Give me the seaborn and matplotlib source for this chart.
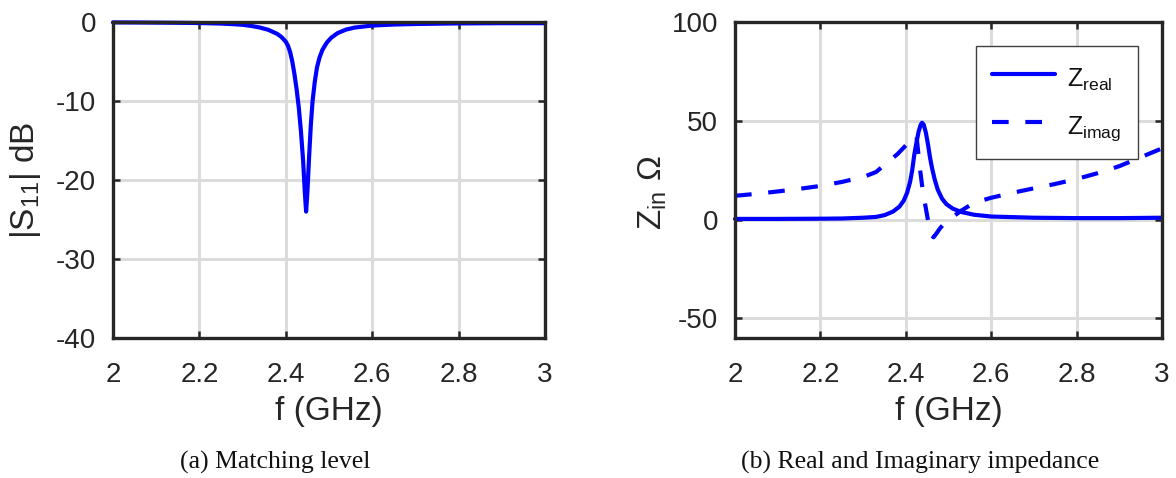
import matplotlib
matplotlib.use("Agg")
import matplotlib.pyplot as plt
import seaborn as sns
import pandas as pd

# |S11| of the antenna (frequency in GHz, magnitude in dB)
f_s11 = [2.00, 2.05, 2.10, 2.15, 2.20, 2.25, 2.28, 2.30, 2.32, 2.34, 2.36, 2.38,
         2.39, 2.40, 2.405, 2.41, 2.415, 2.42, 2.425, 2.43, 2.435, 2.44, 2.444,
         2.447, 2.450, 2.454, 2.458, 2.462, 2.467, 2.472, 2.478, 2.485, 2.495,
         2.505, 2.52, 2.54, 2.56, 2.60, 2.65, 2.70, 2.80, 2.90, 3.00]
s11_db = [-0.05, -0.06, -0.08, -0.10, -0.13, -0.20, -0.28, -0.35, -0.50, -0.70,
          -1.0, -1.5, -1.9, -2.5, -3.0, -3.8, -5.0, -6.6, -8.5, -10.8, -13.8,
          -17.5, -21.5, -24.0, -21.5, -17.0, -13.0, -10.0, -7.6, -5.8, -4.5,
          -3.5, -2.6, -2.0, -1.4, -0.95, -0.70, -0.45, -0.32, -0.25, -0.18,
          -0.15, -0.15]

# Input impedance, real part
f_real = [2.00, 2.10, 2.20, 2.25, 2.30, 2.33, 2.35, 2.37, 2.385, 2.395, 2.403,
          2.41, 2.415, 2.42, 2.425, 2.43, 2.435, 2.438, 2.442, 2.447, 2.452,
          2.457, 2.462, 2.468, 2.475, 2.485, 2.495, 2.51, 2.53, 2.56, 2.60,
          2.70, 2.80, 2.90, 3.00]
z_real = [0.3, 0.3, 0.4, 0.5, 0.9, 1.3, 2.2, 4.0, 6.5, 9.5, 13.5, 19.0, 25.0,
          33.0, 39.0, 44.5, 48.0, 49.0, 48.0, 44.0, 38.0, 31.0, 25.5, 20.0,
          15.0, 10.5, 7.8, 5.5, 3.8, 2.4, 1.5, 0.9, 0.7, 0.7, 0.9]

# Input impedance, imaginary part
f_imag = [2.00, 2.05, 2.10, 2.15, 2.20, 2.25, 2.30, 2.33, 2.36, 2.38, 2.40,
          2.41, 2.42, 2.425, 2.433, 2.44, 2.445, 2.45, 2.455, 2.46, 2.465,
          2.472, 2.48, 2.49, 2.50, 2.508, 2.53, 2.56, 2.60, 2.65, 2.70, 2.75,
          2.80, 2.85, 2.90, 2.95, 3.00]
z_imag = [12.0, 13.0, 14.2, 15.5, 17.0, 19.0, 21.5, 24.0, 29.5, 33.0, 37.5,
          40.0, 42.0, 42.5, 26.0, 14.0, 8.0, 2.0, -4.0, -8.0, -9.0, -7.0,
          -4.5, -2.0, -0.5, 1.0, 4.5, 8.5, 11.0, 13.5, 15.8, 18.0, 20.5, 23.5,
          27.0, 31.5, 36.0]

x_ticks = [2, 2.2, 2.4, 2.6, 2.8, 3]
x_ticklabels = ["2", "2.2", "2.4", "2.6", "2.8", "3"]
s11_ticks = [0, -10, -20, -30, -40]
z_ticks = [100, 50, 0, -50]

sns.set_theme(style="whitegrid")
plt.rcParams.update({
    "font.family": ["Liberation Sans", "DejaVu Sans"],
    "mathtext.fontset": "custom",
    "mathtext.rm": "Liberation Sans",
    "mathtext.it": "Liberation Sans:italic",
    "mathtext.bf": "Liberation Sans:bold",
})

INK = "#262626"
BLUE = "#0000ff"
TICK_FS = 20
LABEL_FS = 24
LW = 3.0

fig = plt.figure(figsize=(11.76, 4.78), dpi=100)
W, H = 1176, 478
ax1 = fig.add_axes([113 / W, 1 - 338 / H, 432 / W, 316 / H])
ax2 = fig.add_axes([735 / W, 1 - 338 / H, 427 / W, 316 / H])

df_s11 = pd.DataFrame({"f": f_s11, "s11": s11_db})
df_re = pd.DataFrame({"f": f_real, "z": z_real})
df_im = pd.DataFrame({"f": f_imag, "z": z_imag})

sns.lineplot(data=df_s11, x="f", y="s11", ax=ax1, color=BLUE, lw=LW,
             sort=False)
sns.lineplot(data=df_re, x="f", y="z", ax=ax2, color=BLUE, lw=LW,
             sort=False, label=r"Z$_{\mathrm{real}}$")
sns.lineplot(data=df_im, x="f", y="z", ax=ax2, color=BLUE, lw=LW,
             sort=False, label=r"Z$_{\mathrm{imag}}$")
ax2.lines[1].set_linestyle((0, (4.0, 4.0)))
for ln in ax1.lines + ax2.lines:
    ln.set_clip_on(False)

for ax in (ax1, ax2):
    ax.set_xlim(2, 3)
    ax.set_xticks(x_ticks)
    ax.set_xticklabels(x_ticklabels)
    ax.grid(True, color="#dcdcdc", lw=2.2)
    ax.set_axisbelow(True)
    for sp in ax.spines.values():
        sp.set_visible(True)
        sp.set_color(INK)
        sp.set_linewidth(2.4)
    ax.tick_params(direction="in", length=5, width=1.8, color=INK,
                   labelcolor=INK, labelsize=TICK_FS, top=True, right=True,
                   bottom=True, left=True)
    ax.tick_params(axis="x", pad=17)
    ax.tick_params(axis="y", pad=12)
    ax.set_xlabel("f (GHz)", fontsize=LABEL_FS, color=INK)
    ax.xaxis.set_label_coords(0.5, -0.185)

ax1.set_ylim(-40, 0)
ax1.set_yticks(s11_ticks)
ax1.set_yticklabels([str(t) for t in s11_ticks])
ax1.set_ylabel(r"|S$_{11}$| dB", fontsize=LABEL_FS, color=INK)
ax1.yaxis.set_label_coords(-0.162, 0.5)

ax2.set_ylim(-60, 100)
ax2.set_yticks(z_ticks)
ax2.set_yticklabels([str(t) for t in z_ticks])
ax2.set_ylabel(r"Z$_{\mathrm{in}}$ Ω", fontsize=LABEL_FS, color=INK)
ax2.yaxis.set_label_coords(-0.155, 0.46)

leg = ax2.legend(loc="upper right", fontsize=18, frameon=True, fancybox=False,
                 framealpha=1, edgecolor="#404040", borderaxespad=0.96,
                 handlelength=2.5, handleheight=1.6, labelspacing=0.6,
                 borderpad=0.65, handletextpad=0.5)
leg.get_frame().set_linewidth(1.0)
for t in leg.get_texts():
    t.set_color("#111111")

cap_kw = dict(ha="center", va="center", fontsize=18.5,
              family=["Liberation Serif", "DejaVu Serif"], color="#111111")
fig.text(275 / W, 1 - 462 / H, "(a) Matching level", **cap_kw)
fig.text(920 / W, 1 - 462 / H, "(b) Real and Imaginary impedance", **cap_kw)

fig.savefig("out.png", dpi=100, facecolor="white")
